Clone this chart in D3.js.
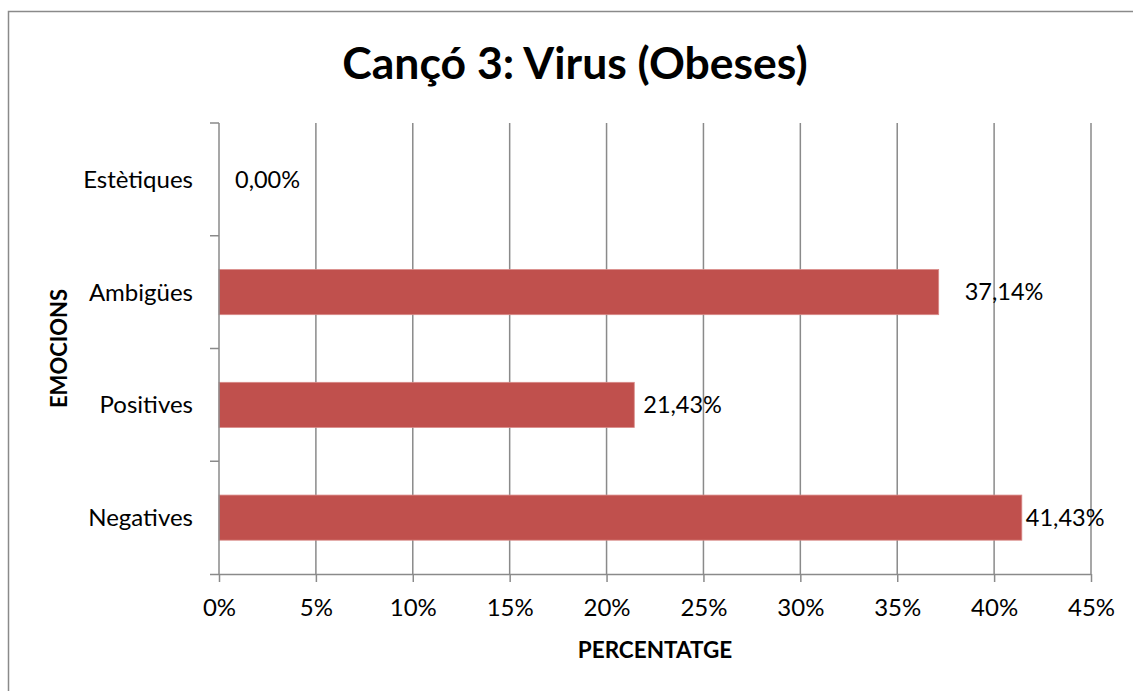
<!DOCTYPE html>
<html>
<head>
<meta charset="utf-8">
<script src="https://cdn.jsdelivr.net/npm/d3@7"></script>
<style>
  html, body { margin: 0; padding: 0; background: #fff; }
  svg { display: block; font-family: Lato, "Open Sans", sans-serif; }
</style>
</head>
<body>
<svg id="chart"></svg>
<script>
// categories bottom -> top, as in the original
const categories = ["Negatives", "Positives", "Ambigües", "Estètiques"];
const values = [41.43, 21.43, 37.14, 0.00];
const valueLabels = ["41,43%", "21,43%", "37,14%", "0,00%"];
const xTicks = [0, 5, 10, 15, 20, 25, 30, 35, 40, 45];

// labels were nudged by hand in the source chart
const labelDx = [4, 9, 26, 16];

const W = 1133, H = 691;
const margin = { top: 123, right: 42, bottom: 117, left: 219 };
const width = W - margin.left - margin.right, height = H - margin.top - margin.bottom;
const gridColor = "#8a8a8a", barColor = "#c0504d";

const svg = d3.select("#chart").attr("width", W).attr("height", H);

// chart frame (runs off the right and bottom edge)
svg.append("rect").attr("x", 8.5).attr("y", 11.5).attr("width", W + 20).attr("height", H + 20)
  .attr("fill", "#fff").attr("stroke", "#8a8a8a").attr("stroke-width", 1.5);

svg.append("text").attr("x", 575).attr("y", 79).attr("text-anchor", "middle")
  .style("font-size", "44.5px").style("font-weight", "bold").text("Cançó 3: Virus (Obeses)");

const g = svg.append("g").attr("transform", `translate(${margin.left},${margin.top})`);

const x = d3.scaleLinear().domain([0, 45]).range([0, width]);
const y = d3.scaleBand().domain(categories.slice().reverse()).range([0, height]).paddingInner(0.6).paddingOuter(0.3);

// vertical gridlines
g.append("g").selectAll("line").data(xTicks.slice(1)).enter().append("line")
  .attr("x1", d => x(d)).attr("x2", d => x(d)).attr("y1", 0).attr("y2", height)
  .attr("stroke", gridColor).attr("stroke-width", 1.5);

// bars
g.append("g").selectAll("rect").data(categories).enter().append("rect")
  .attr("x", x(0)).attr("y", d => y(d))
  .attr("width", (d, i) => x(values[i]) - x(0)).attr("height", y.bandwidth())
  .attr("fill", barColor).attr("stroke", "#d98a88").attr("stroke-width", 0.8);

// x axis
const xAxis = g.append("g").attr("transform", `translate(0,${height})`)
  .call(d3.axisBottom(x).tickValues(xTicks).tickFormat(d => d + "%").tickSize(8).tickSizeOuter(0).tickPadding(17));
xAxis.select(".domain").attr("stroke", gridColor).attr("stroke-width", 1.5).attr("d", `M-9,0.5H${width}`);
xAxis.selectAll(".tick line").attr("stroke", gridColor).attr("stroke-width", 1.5);
xAxis.selectAll(".tick text").attr("fill", "#000").style("font-size", "24px").style("font-family", "Lato, sans-serif");

// y axis: ticks sit between the categories
const yAxis = g.append("g");
yAxis.append("line").attr("x1", 0).attr("x2", 0).attr("y1", 0).attr("y2", height)
  .attr("stroke", gridColor).attr("stroke-width", 1.5);
const step = y.step();
yAxis.selectAll("line.tk").data(d3.range(categories.length)).enter().append("line").attr("class", "tk")
  .attr("x1", -9).attr("x2", 0)
  .attr("y1", i => y(categories[categories.length - 1]) - step * 0.3 + i * step)
  .attr("y2", i => y(categories[categories.length - 1]) - step * 0.3 + i * step)
  .attr("stroke", gridColor).attr("stroke-width", 1.5);
yAxis.selectAll("text").data(categories).enter().append("text")
  .attr("x", -26).attr("y", d => y(d) + y.bandwidth() / 2).attr("dy", "0.35em")
  .attr("text-anchor", "end").style("font-size", "24px").text(d => d);

// data labels
g.append("g").selectAll("text").data(categories).enter().append("text")
  .attr("x", (d, i) => x(values[i]) + labelDx[i]).attr("y", d => y(d) + y.bandwidth() / 2).attr("dy", "0.35em")
  .style("font-size", "23.5px").text((d, i) => valueLabels[i]);

// axis titles
svg.append("text").attr("x", margin.left + width / 2).attr("y", 658).attr("text-anchor", "middle")
  .style("font-size", "22.5px").style("font-weight", "bold").text("PERCENTATGE");
svg.append("text").attr("transform", `translate(67,${margin.top + height / 2}) rotate(-90)`).attr("text-anchor", "middle")
  .style("font-size", "22px").style("font-weight", "bold").text("EMOCIONS");
</script>
</body>
</html>
